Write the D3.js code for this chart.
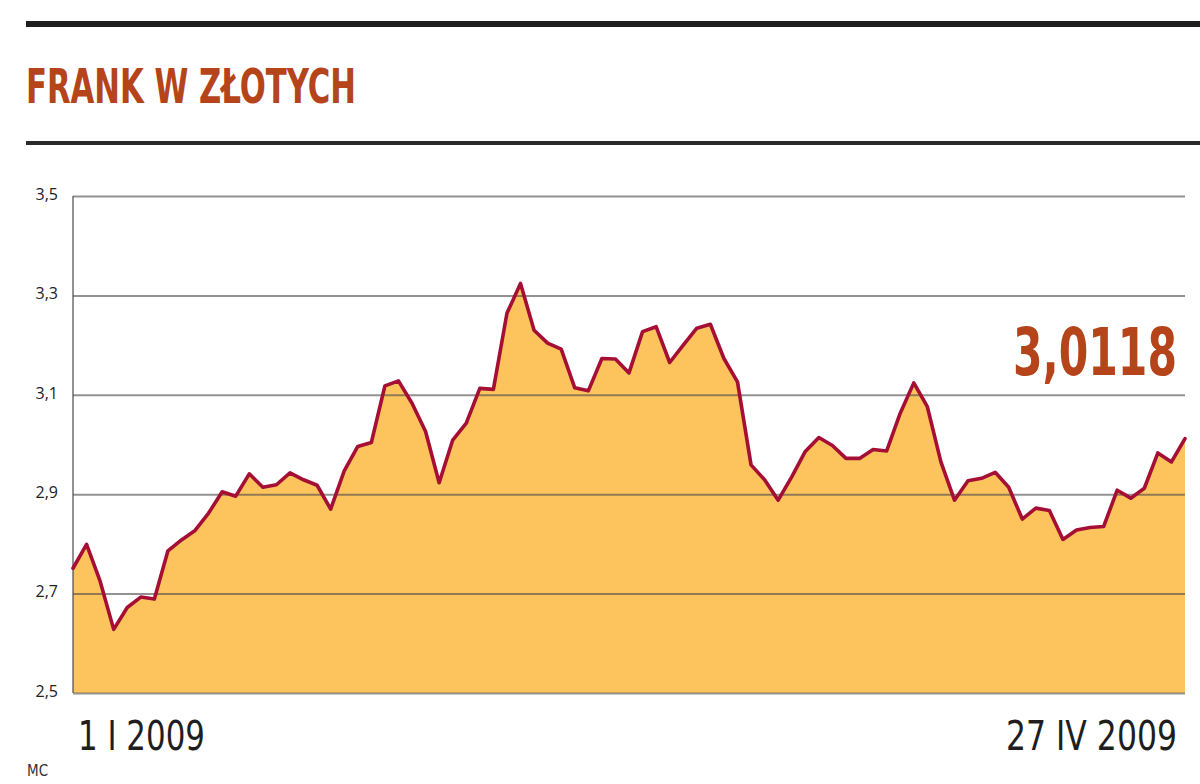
<!DOCTYPE html>
<html>
<head>
<meta charset="utf-8">
<script src="https://cdn.jsdelivr.net/npm/d3@7"></script>
<style>
html,body{margin:0;padding:0;background:#fff;}
svg{display:block;}
</style>
</head>
<body>
<svg id="chart" width="1200" height="784"></svg>
<script>
const title = "FRANK W ZŁOTYCH";
const lastValueLabel = "3,0118";
const xTickLabels = ["1 I 2009", "27 IV 2009"];
const yTicks = [2.5, 2.7, 2.9, 3.1, 3.3, 3.5];
const sourceLabel = "MC";
const values = [
  2.751, 2.799, 2.725, 2.628, 2.672, 2.693, 2.689, 2.786, 2.808, 2.827,
  2.862, 2.905, 2.896, 2.941, 2.914, 2.919, 2.943, 2.929, 2.918, 2.870,
  2.947, 2.996, 3.004, 3.118, 3.128, 3.083, 3.026, 2.923, 3.009, 3.043,
  3.113, 3.111, 3.264, 3.324, 3.230, 3.204, 3.192, 3.114, 3.108, 3.173,
  3.172, 3.144, 3.227, 3.237, 3.165, 3.200, 3.234, 3.242, 3.173, 3.126,
  2.959, 2.929, 2.888, 2.935, 2.986, 3.014, 2.998, 2.972, 2.972, 2.990,
  2.987, 3.063, 3.124, 3.076, 2.965, 2.888, 2.927, 2.932, 2.944, 2.914,
  2.850, 2.872, 2.867, 2.809, 2.828, 2.833, 2.835, 2.908, 2.892, 2.912,
  2.983, 2.965, 3.012
];

(function () {
const svg = d3.select("#chart");
const pLeft = 73, pRight = 1185, pTop = 196, pBottom = 693;
const x = d3.scaleLinear().domain([0, values.length - 1]).range([pLeft, pRight]);
const y = d3.scaleLinear().domain([2.5, 3.5]).range([pBottom, pTop]);
const loc = d3.formatLocale({decimal: ",", thousands: " ", grouping: [3], currency: ["", " zł"]});
const fmt = loc.format(".1f");
const narrow = "'Liberation Sans Narrow', 'DejaVu Sans Condensed', sans-serif";

// place a text starting at (tx, ty) and squeeze it horizontally to a target width
function fitText(str, tx, ty, targetW, attrs) {
  const t = svg.append("text").attr("x", 0).attr("y", 0).text(str);
  Object.entries(attrs).forEach(([k, v]) => t.attr(k, v));
  const w = t.node().getComputedTextLength();
  const s = w > 0 ? targetW / w : 1;
  t.attr("transform", `translate(${tx},${ty}) scale(${s},1)`);
  return t;
}

// header rules
svg.append("rect").attr("x", 26).attr("y", 21).attr("width", 1174).attr("height", 6).attr("fill", "#1e1e1e");
svg.append("rect").attr("x", 26).attr("y", 141).attr("width", 1174).attr("height", 4).attr("fill", "#2a2a2a");

fitText(title, 26, 103, 330, {
  "font-family": narrow, "font-weight": "bold", "font-size": 48, "fill": "#b5441a"
});

// area
const area = d3.area().x((d, i) => x(i)).y0(y(2.5)).y1(d => y(d));
svg.append("path").datum(values).attr("d", area).attr("fill", "#fdc35c");

// gridlines
const yAxis = d3.axisLeft(y).tickValues(yTicks).tickSize(-(pRight - pLeft)).tickFormat(fmt).tickPadding(14);
const g = svg.append("g").attr("transform", `translate(${pLeft},0)`).call(yAxis);
g.select(".domain").remove();
g.selectAll(".tick line").attr("stroke", "#4a4a4a").attr("stroke-opacity", 0.6).attr("stroke-width", 2);
g.selectAll(".tick text")
  .attr("font-family", "'Open Sans', 'DejaVu Sans', sans-serif")
  .attr("font-size", 16).attr("fill", "#222").attr("x", -15).attr("dy", "0.2em");

// left axis line
svg.append("line").attr("x1", pLeft).attr("x2", pLeft).attr("y1", pTop).attr("y2", pBottom)
  .attr("stroke", "#4a4a4a").attr("stroke-opacity", 0.6).attr("stroke-width", 2);

// line
const line = d3.line().x((d, i) => x(i)).y(d => y(d));
svg.append("path").datum(values).attr("d", line)
  .attr("fill", "none").attr("stroke", "#a60f35").attr("stroke-width", 3.6)
  .attr("stroke-linejoin", "round").attr("stroke-linecap", "round");

// last value label
fitText(lastValueLabel, 1013, 375, 164, {
  "font-family": narrow, "font-weight": "bold", "font-size": 66, "fill": "#b5441a"
});

// x labels
fitText(xTickLabels[0], 78, 750, 127, {
  "font-family": narrow, "font-size": 41, "fill": "#1e1e1e"
});
fitText(xTickLabels[1], 1006, 750, 171, {
  "font-family": narrow, "font-size": 41, "fill": "#1e1e1e"
});

svg.append("text")
  .attr("x", 27).attr("y", 776)
  .attr("font-family", narrow)
  .attr("font-size", 15).attr("fill", "#333")
  .text(sourceLabel);
})();
</script>
</body>
</html>
